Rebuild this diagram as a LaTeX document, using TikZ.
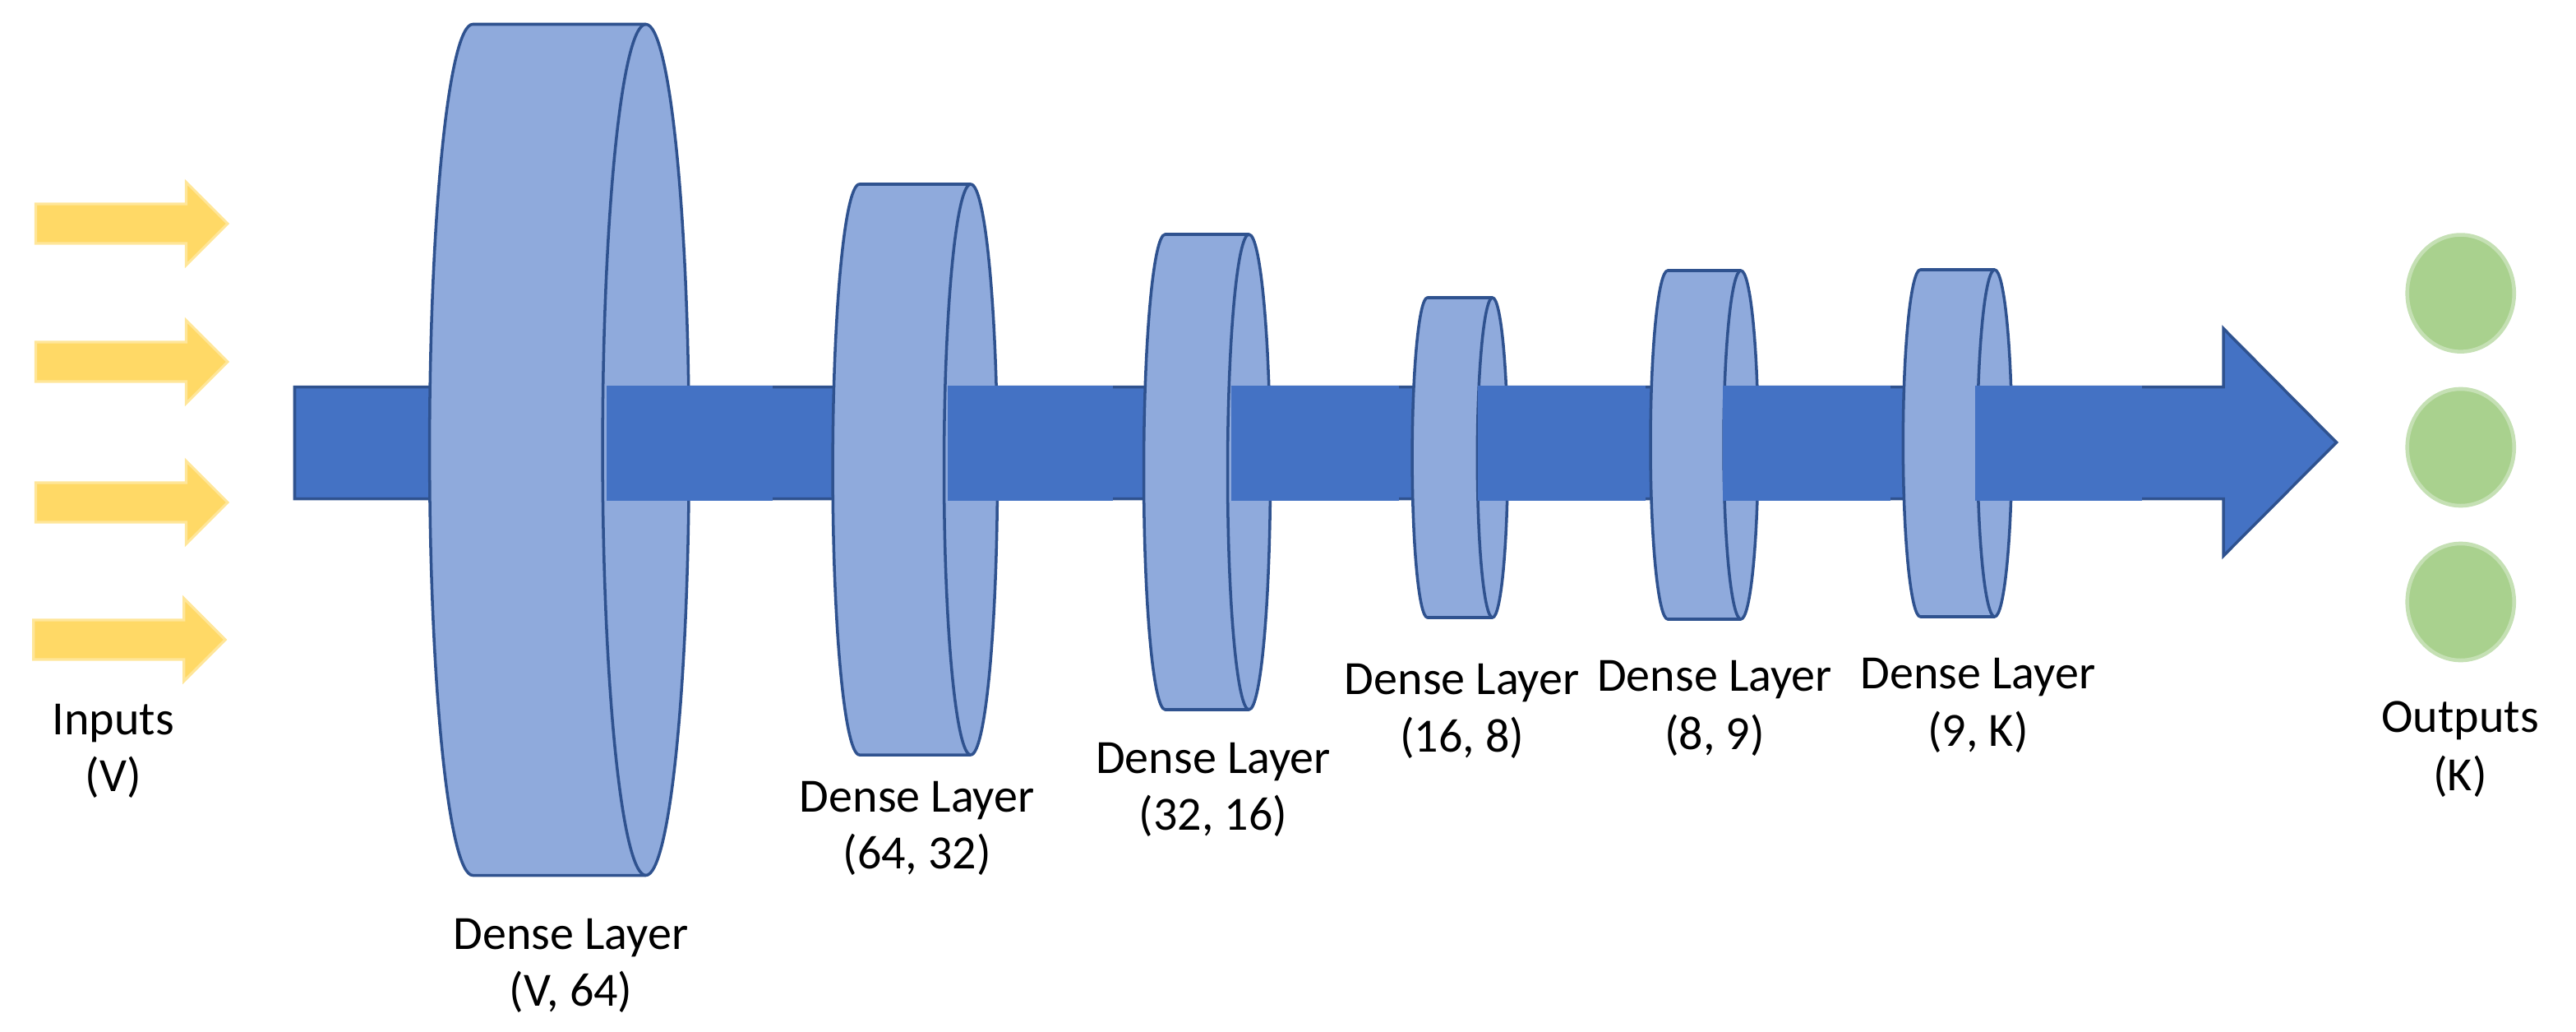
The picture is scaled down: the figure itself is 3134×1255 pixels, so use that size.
\documentclass[tikz,border=0pt]{standalone}
\usepackage{fontspec}
\setmainfont{Carlito}
\usetikzlibrary{shapes.geometric}
\definecolor{shaftfill}{HTML}{4472C4}
\definecolor{edgeblue}{HTML}{2F528F}
\definecolor{cylfill}{HTML}{8FAADC}
\definecolor{yellowfill}{HTML}{FFD966}
\definecolor{yellowedge}{HTML}{FFE699}
\definecolor{greenfill}{HTML}{A9D18E}
\definecolor{greenedge}{HTML}{C5E0B4}
\newcommand{\drawcyl}[5]{% back x, front x, x radius, centre y (downward), y radius
  \draw[cylstyle] (#1,{-#4+#5}) -- (#2,{-#4+#5})
     arc[start angle=90,end angle=-90,x radius=#3,y radius=#5]
     -- (#1,{-#4-#5})
     arc[start angle=270,end angle=90,x radius=#3,y radius=#5] -- cycle;
  \draw[cylstyle,fill=none] (#2,{-#4+#5})
     arc[start angle=90,end angle=270,x radius=#3,y radius=#5];
}
\begin{document}
\begin{tikzpicture}[x=0.01cm,y=0.01cm,
  lbl/.style={font=\fontsize{16.5pt}{20pt}\selectfont, inner sep=0pt, anchor=base},
  cylstyle/.style={fill=cylfill, draw=edgeblue, line width=1pt, line join=round},
  shaftstyle/.style={fill=shaftfill, draw=edgeblue, line width=1pt, line join=miter},
  patchbox/.style={fill=shaftfill, draw=none},
  inarrow/.style={fill=yellowfill, draw=yellowedge, line width=0.9pt},
  outdot/.style={ellipse, fill=greenfill, draw=greenedge, line width=1.3pt,
     minimum width=1.3cm, minimum height=1.42cm, inner sep=0pt}]
\useasboundingbox (0,0) rectangle (3134,-1255);

% input arrows
\foreach \yy/\xs in {272/43.5, 440/43.5, 611/43.5, 778/40.7}{
  \draw[inarrow] ({\xs},{-\yy+24}) -- ({\xs+183},{-\yy+24}) -- ({\xs+183},{-\yy+50.5})
    -- ({\xs+233.5},{-\yy}) -- ({\xs+183},{-\yy-50.5}) -- ({\xs+183},{-\yy-24})
    -- ({\xs},{-\yy-24}) -- cycle;
}
\node[lbl] (inA) at (138,-893) {Inputs};
\node[lbl] (inB) at (138,-962) {(V)};

% main shaft arrow
\draw[shaftstyle] (358.5,-470.6) -- (2705,-470.6) -- (2705,-399.5) -- (2842.5,-538)
   -- (2705,-676) -- (2705,-606.7) -- (358.5,-606.7) -- cycle;

% cylinders with shaft patches in front
\drawcyl{575.2}{785.7}{52.6}{547}{517.5}
\fill[patchbox] (738,-468.5) rectangle (940,-608.5);
\drawcyl{1045.6}{1181}{32.5}{571}{347}
\fill[patchbox] (1153,-468.5) rectangle (1354,-608.5);
\drawcyl{1417.5}{1519.5}{26}{574}{289}
\fill[patchbox] (1498,-468.5) rectangle (1701.5,-608.5);
\drawcyl{1736.6}{1815.8}{18.5}{556.5}{194.5}
\fill[patchbox] (1798,-468.5) rectangle (2001.7,-608.5);
\drawcyl{2029}{2118}{21}{541}{212}
\fill[patchbox] (2096,-468.5) rectangle (2300,-608.5);
\drawcyl{2336.3}{2426.7}{21}{539}{211}
\fill[patchbox] (2403,-468.5) rectangle (2606,-608.5);

% layer labels
\node[lbl] (l1a) at (694.5,-1154) {Dense Layer};
\node[lbl] (l1b) at (694.5,-1223) {(V, 64)};
\node[lbl] (l2a) at (1115.7,-987) {Dense Layer};
\node[lbl] (l2b) at (1115.7,-1056) {(64, 32)};
\node[lbl] (l3a) at (1476,-940.5) {Dense Layer};
\node[lbl] (l3b) at (1476,-1009) {(32, 16)};
\node[lbl] (l4a) at (1778.7,-844) {Dense Layer};
\node[lbl] (l4b) at (1778.7,-914) {(16, 8)};
\node[lbl] (l5a) at (2086,-840) {Dense Layer};
\node[lbl] (l5b) at (2086,-911) {(8, 9)};
\node[lbl] (l6a) at (2406.5,-837) {Dense Layer};
\node[lbl] (l6b) at (2406.5,-907) {(9, K)};

% outputs
\node[outdot] (o1) at (2993.7,-356.6) {};
\node[outdot] (o2) at (2993.7,-544) {};
\node[outdot] (o3) at (2993.7,-732) {};
\node[lbl] (outA) at (2993,-890) {Outputs};
\node[lbl] (outB) at (2993,-961) {(K)};
\end{tikzpicture}
\end{document}
